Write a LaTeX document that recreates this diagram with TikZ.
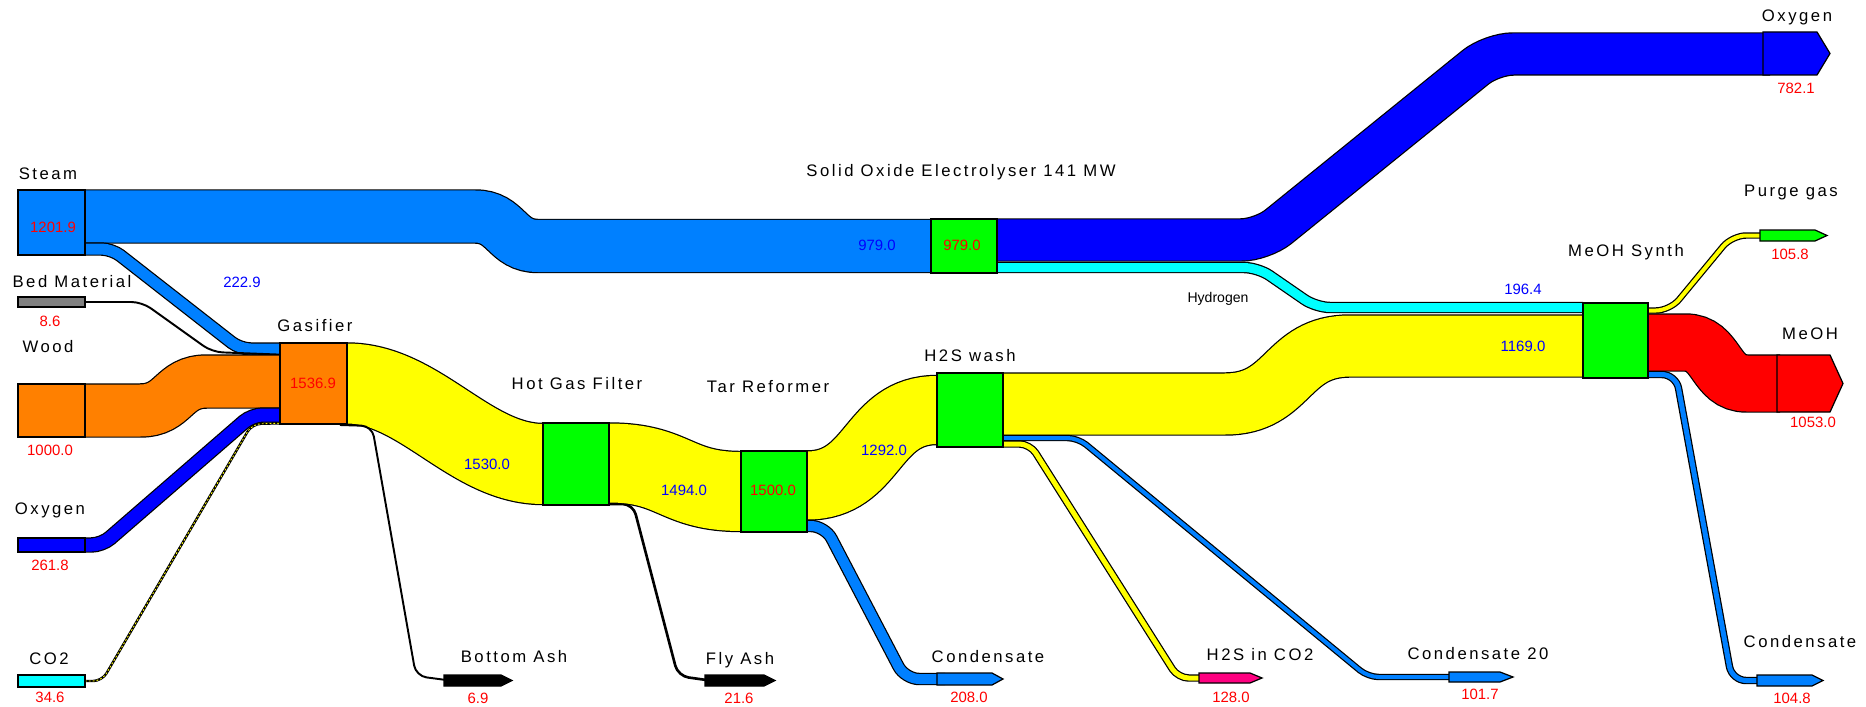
\documentclass[tikz,border=0pt]{standalone}
\usepackage{fontspec}
\setmainfont{Liberation Sans}
\newfontfamily\lblfamily[LetterSpace=15]{Liberation Sans}
\usepackage{tikz}
\usetikzlibrary{calc}

\definecolor{steamblue}{RGB}{0,128,255}
\definecolor{oxblue}{RGB}{0,0,255}
\definecolor{woodorange}{RGB}{255,128,0}
\definecolor{gasyellow}{RGB}{255,255,0}
\definecolor{unitgreen}{RGB}{0,255,0}
\definecolor{hcyan}{RGB}{0,255,255}
\definecolor{meohred}{RGB}{255,0,0}
\definecolor{sulfpink}{RGB}{255,0,128}
\definecolor{bedgray}{RGB}{128,128,128}

\newcommand{\lblfont}{\lblfamily\fontsize{9.5}{11}\selectfont}
\newcommand{\valfont}{\fontsize{8.5}{10}\selectfont}
% arrow shaped sink box: colour, x left, x right, x tip, y top, y bottom
\newcommand{\sinkbox}[6]{\filldraw[unitbox, fill=#1] (#2,#5) -- (#3,#5) -- (#4,{(#5+#6)/2}) -- (#3,#6) -- (#2,#6) -- cycle;}

\tikzset{
  flow/.style 2 args={draw=black, line width=0.7pt, double=#1, double distance=#2*0.2mm},
  unitbox/.style={draw=black, line width=0.7pt},
  ashline/.style={draw=black, line width=1.1pt, rounded corners=6pt},
  lbl/.style={font=\lblfont, text=black, inner sep=0pt, anchor=mid},
  val/.style={font=\valfont, text=meohred, inner sep=0pt, anchor=mid},
  flowval/.style={font=\valfont, text=oxblue, inner sep=0pt, anchor=mid},
}

\begin{document}
\begin{tikzpicture}[x=0.2mm, y=-0.2mm]
  \fill[white] (0,0) rectangle (1866,707);
  \useasboundingbox (0,0) rectangle (1866,707);

  % feed streams into the gasifier
  \draw[flow={steamblue}{52}] (85,216.5) -- (475,216.5) .. controls (507,216.5) and (506,246) .. (538,246) -- (931,246);
  \draw[flow={steamblue}{11}, rounded corners=6pt] (85,249) -- (112,249) -- (240,349) -- (290,349);
  \draw[ashline] (85,302) -- (142,302) -- (212,352) -- (290,355);
  \draw[flow={woodorange}{52}] (85,410.5) -- (140,410.5) .. controls (175,410.5) and (172,381.5) .. (207,381.5) -- (280,381.5);
  \draw[flow={oxblue}{13}, rounded corners=6pt] (85,545) -- (102,545) -- (252,415) -- (290,415);
  \draw[draw=black, line width=1.4pt, rounded corners=5pt,
        postaction={draw=gasyellow, line width=0.5pt, dash pattern=on 1pt off 1.2pt}]
    (85,681) -- (102,681) -- (252,424) -- (290,423);

  % gas train
  \draw[flow={gasyellow}{80}] (347,383.5) .. controls (420,383.5) and (470,464) .. (543,464);
  \draw[ashline] (340,425) -- (372,426) -- (416,676) -- (450,680.5);
  \draw[ashline, line width=1.5pt] (600,504) -- (633,504) -- (678,676) -- (710,680.5);
  \draw[flow={gasyellow}{79}] (609,463) .. controls (675,463) and (675,491.5) .. (741,491.5);
  \draw[flow={gasyellow}{68}] (807,485.5) .. controls (875,485.5) and (870,410) .. (937,410);
  \draw[flow={steamblue}{10}, rounded corners=8pt] (790,526) -- (825,526) -- (905,679) -- (945,679);
  \draw[flow={gasyellow}{61}] (1003,404) -- (1225,404) .. controls (1290,404) and (1285,346) .. (1350,346) -- (1583,346);
  \draw[flow={steamblue}{4}, rounded corners=6pt] (990,438) -- (1078,438) -- (1368,677) -- (1455,677);
  \draw[flow={gasyellow}{5}, rounded corners=6pt] (990,444) -- (1030,444) -- (1178,678) -- (1205,678);

  % electrolyser products
  \draw[flow={oxblue}{41}, rounded corners=12pt] (990,240) -- (1262,240) -- (1492,54) -- (1770,54);
  \draw[flow={hcyan}{9}, rounded corners=8pt] (990,267.5) -- (1258,267.5) -- (1316,307.5) -- (1583,307.5);

  % methanol synthesis products
  \draw[flow={gasyellow}{4}, rounded corners=8pt] (1640,310.5) -- (1670,310.5) -- (1732,235.5) -- (1765,235.5);
  \draw[flow={meohred}{56}] (1648,342.5) -- (1685,342.5) .. controls (1718,342.5) and (1714,383.5) .. (1747,383.5) -- (1780,383.5);
  \draw[flow={steamblue}{5}, rounded corners=8pt] (1640,374.5) -- (1676,374.5) -- (1732,680.5) -- (1765,680.5);

  % source boxes
  \filldraw[unitbox, fill=steamblue] (18,190) rectangle (85,255);
  \filldraw[unitbox, fill=bedgray] (18,297) rectangle (85,307);
  \filldraw[unitbox, fill=woodorange] (18,384) rectangle (85,437);
  \filldraw[unitbox, fill=oxblue] (18,538) rectangle (85,552);
  \filldraw[unitbox, fill=hcyan] (18,675) rectangle (85,687);

  % process units
  \filldraw[unitbox, fill=woodorange] (280,343) rectangle (347,424);
  \filldraw[unitbox, fill=unitgreen] (543,423) rectangle (609,505);
  \filldraw[unitbox, fill=unitgreen] (741,451) rectangle (807,532);
  \filldraw[unitbox, fill=unitgreen] (937,373) rectangle (1003,447);
  \filldraw[unitbox, fill=unitgreen] (931,219) rectangle (997,273);
  \filldraw[unitbox, fill=unitgreen] (1583,303) rectangle (1648,378);

  % sinks
  \sinkbox{black}{444}{501}{512}{675}{686}
  \sinkbox{black}{705}{764}{775}{675}{686}
  \sinkbox{steamblue}{937}{992}{1003}{673}{685}
  \sinkbox{sulfpink}{1199}{1250}{1262}{673}{683}
  \sinkbox{steamblue}{1449}{1500}{1513}{672}{682}
  \sinkbox{steamblue}{1757}{1812}{1823}{675}{686}
  \sinkbox{unitgreen}{1760}{1815}{1827}{230}{241}
  \sinkbox{meohred}{1777}{1830}{1843}{355}{412}
  \sinkbox{oxblue}{1763}{1817}{1830}{32}{75}

  % names
  \node[lbl] (steam) at (48,175) {Steam};
  \node[lbl] (bed) at (72,283) {Bed Material};
  \node[lbl] (wood) at (48,348) {Wood};
  \node[lbl] (oxin) at (50,510) {Oxygen};
  \node[lbl] (co2) at (49,660) {CO2};
  \node[lbl] (gasifier) at (315,327) {Gasifier};
  \node[lbl] (hgf) at (577,385) {Hot Gas Filter};
  \node[lbl] (tar) at (768,388) {Tar Reformer};
  \node[lbl] (hsw) at (970,357) {H2S wash};
  \node[lbl] (soe) at (961,172) {Solid Oxide Electrolyser 141 MW};
  \node[lbl] (synth) at (1626,252) {MeOH Synth};
  \node[lbl] (oxout) at (1797,17) {Oxygen};
  \node[lbl] (purge) at (1791,192) {Purge gas};
  \node[lbl] (meoh) at (1810,335) {MeOH};
  \node[lbl] (bash) at (514,658) {Bottom Ash};
  \node[lbl] (fash) at (740,660) {Fly Ash};
  \node[lbl] (cond1) at (988,658) {Condensate};
  \node[lbl] (hsco) at (1260,656) {H2S in CO2};
  \node[lbl] (cond2) at (1478,655) {Condensate 20};
  \node[lbl] (cond3) at (1800,643) {Condensate};
  \node[font=\fontsize{8}{9}\selectfont, inner sep=0pt, anchor=mid] (hyd) at (1218,298) {Hydrogen};

  % numbers
  \node[val] (vsteam) at (53,228) {1201.9};
  \node[val] (vbed) at (50,322) {8.6};
  \node[val] (vwood) at (50,451) {1000.0};
  \node[val] (voxin) at (50,566) {261.8};
  \node[val] (vco2) at (50,698) {34.6};
  \node[val] (vgas) at (313,384) {1536.9};
  \node[val] (vtar) at (773,491) {1500.0};
  \node[val] (vsoe) at (962,246) {979.0};
  \node[val] (vbash) at (478,699) {6.9};
  \node[val] (vfash) at (739,699) {21.6};
  \node[val] (vcond1) at (969,698) {208.0};
  \node[val] (vhsco) at (1231,698) {128.0};
  \node[val] (vcond2) at (1480,695) {101.7};
  \node[val] (vcond3) at (1792,699) {104.8};
  \node[val] (vpurge) at (1790,255) {105.8};
  \node[val] (vmeoh) at (1813,423) {1053.0};
  \node[val] (voxout) at (1796,89) {782.1};
  \node[flowval] (fbranch) at (242,283) {222.9};
  \node[flowval] (fraw) at (487,465) {1530.0};
  \node[flowval] (fclean) at (684,491) {1494.0};
  \node[flowval] (fref) at (884,451) {1292.0};
  \node[flowval] (fsteam) at (877,246) {979.0};
  \node[flowval] (fhyd) at (1523,290) {196.4};
  \node[flowval] (fsyn) at (1523,347) {1169.0};
\end{tikzpicture}
\end{document}
